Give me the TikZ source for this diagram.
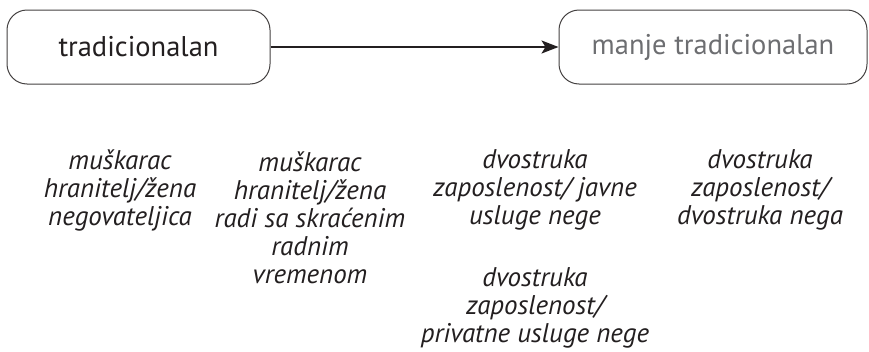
\documentclass[tikz,border=0pt]{standalone}
\usepackage{fontspec}
\setmainfont{PT Sans}
\usetikzlibrary{arrows.meta}
\definecolor{txt}{HTML}{231F20}
\definecolor{greytxt}{HTML}{6D6E71}
\tikzset{
  phase/.style={draw=txt!85, line width=1pt, rounded corners=20pt, minimum height=74pt, inner sep=0pt, font=\fontsize{28.5}{32}\selectfont},
  lbl/.style={align=center, text=txt, font=\fontsize{27}{28}\selectfont\itshape, inner sep=0pt},
  flow/.style={draw=txt, line width=2.2pt, -{Stealth[length=17pt,width=13pt,inset=4pt]}}
}
\begin{document}
\begin{tikzpicture}[x=1pt,y=-1pt]
\useasboundingbox (0,0) rectangle (869,351);
\node[phase, minimum width=263pt, text=txt] (trad) at (138.5,47) {tradicionalan};
\node[phase, minimum width=308pt, text=greytxt] (manje) at (713,47) {manje tradicionalan};
\draw[flow] (trad) -- (manje);
\node[lbl] (c1) at (120,190) {muškarac\\hranitelj/žena\\negovateljica};
\node[lbl] (c2) at (310,218) {muškarac\\hranitelj/žena\\radi sa skraćenim\\radnim\\vremenom};
\node[lbl] (c3a) at (535,190) {dvostruka\\zaposlenost/ javne\\usluge nege};
\node[lbl] (c3b) at (535,308) {dvostruka\\zaposlenost/\\privatne usluge nege};
\node[lbl] (c4) at (760,190) {dvostruka\\zaposlenost/\\dvostruka nega};
\end{tikzpicture}
\end{document}
